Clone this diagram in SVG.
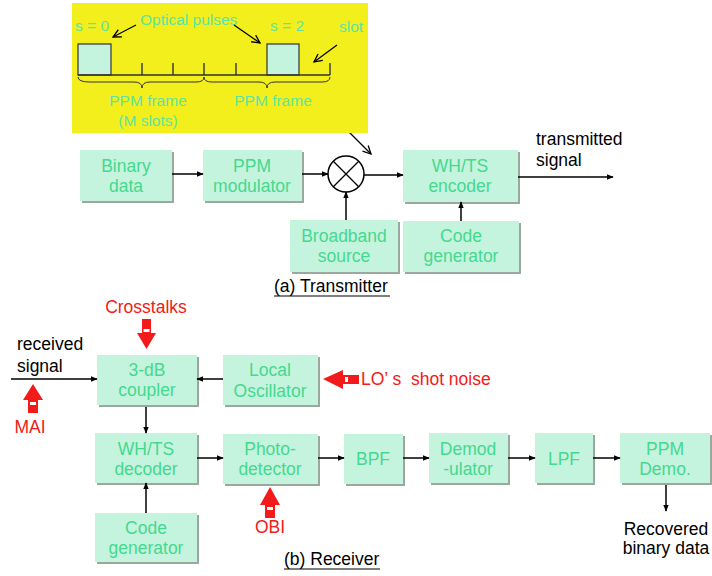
<svg xmlns="http://www.w3.org/2000/svg" width="712" height="576" viewBox="0 0 712 576">
<defs>
<style>
text{font-family:"Liberation Sans",Arial,sans-serif;}
.box{fill:#C4F4DE;}
.sh{fill:#9AA8A0;}
.bt{fill:#45D98F;font-size:17.5px;text-anchor:middle;}
.yt{fill:#5FE3A4;font-size:15.5px;}
.k{fill:#000;font-size:17.5px;}
.r{fill:#F21A1A;font-size:17.5px;}
.ln{stroke:#000;stroke-width:1.5;fill:none;}
.thin{stroke:#000;stroke-width:1.2;fill:none;}
.ra{fill:#F21A1A;}
</style>
<marker id="ah" viewBox="0 0 10 10" refX="9" refY="5" markerWidth="7" markerHeight="7" orient="auto" markerUnits="userSpaceOnUse">
<path d="M0,1 L10,5 L0,9 Z" fill="#000"/>
</marker>
<marker id="oa" viewBox="0 0 10 10" refX="9" refY="5" markerWidth="10" markerHeight="10" orient="auto" markerUnits="userSpaceOnUse">
<path d="M1,1 L9,5 L1,9" fill="none" stroke="#000" stroke-width="1.3"/>
</marker>
</defs>
<rect width="712" height="576" fill="#fff"/>

<!-- pointer arrow under yellow panel -->
<line x1="344" y1="127" x2="371" y2="154" class="thin" marker-end="url(#oa)"/>

<!-- yellow PPM panel -->
<g id="ppm-panel">
<rect x="72" y="3" width="296" height="130" fill="#F3EF1C"/>
<rect x="78" y="44" width="33" height="31" fill="#C4F4DE" stroke="#333" stroke-width="1.2"/>
<rect x="267" y="44" width="32" height="31" fill="#C4F4DE" stroke="#333" stroke-width="1.2"/>
<path d="M78,75 H330 M142,63 V75 M173,63 V75 M204,63 V75 M236,63 V75 M330,63 V75" stroke="#333" stroke-width="1.4" fill="none"/>
<path d="M78,77 Q78,82 90,82 H134 Q142,82 142,88 Q142,82 150,82 H196 Q204,82 204,77 Q204,82 212,82 H259 Q267,82 267,88 Q267,82 275,82 H322 Q330,82 330,77" stroke="#333" stroke-width="1" fill="none"/>
<text class="yt" x="75" y="31">s = 0</text>
<text class="yt" x="140" y="25">Optical pulses</text>
<text class="yt" x="270" y="31">s = 2</text>
<text class="yt" x="339" y="32">slot</text>
<text class="yt" x="148" y="106" text-anchor="middle">PPM frame</text>
<text class="yt" x="148" y="126" text-anchor="middle">(M slots)</text>
<text class="yt" x="273" y="106" text-anchor="middle">PPM frame</text>
<line x1="136" y1="25" x2="113" y2="37" class="thin" marker-end="url(#oa)"/>
<line x1="234" y1="25" x2="260" y2="43" class="thin" marker-end="url(#oa)"/>
<line x1="337" y1="45" x2="314" y2="62" class="thin" marker-end="url(#oa)"/>
</g>

<!-- Transmitter nodes -->
<g id="binary-data">
<rect class="sh" x="82" y="152" width="92" height="51"/>
<rect class="box" x="80" y="150" width="92" height="51"/>
<text class="bt" x="126" y="172">Binary</text>
<text class="bt" x="126" y="192">data</text>
</g>
<g id="ppm-modulator">
<rect class="sh" x="205" y="152" width="99" height="51"/>
<rect class="box" x="203" y="150" width="99" height="51"/>
<text class="bt" x="252" y="172">PPM</text>
<text class="bt" x="252" y="192">modulator</text>
</g>
<g id="mixer">
<circle cx="346" cy="174" r="18" fill="#fff" stroke="#000" stroke-width="1.5"/>
<path d="M333.3,161.3 L358.7,186.7 M358.7,161.3 L333.3,186.7" stroke="#000" stroke-width="1.3"/>
</g>
<g id="whts-encoder">
<rect class="sh" x="405" y="152" width="115" height="52"/>
<rect class="box" x="403" y="150" width="115" height="52"/>
<text class="bt" x="460" y="172">WH/TS</text>
<text class="bt" x="460" y="192">encoder</text>
</g>
<g id="broadband-source">
<rect class="sh" x="292" y="222" width="108" height="52"/>
<rect class="box" x="290" y="220" width="108" height="52"/>
<text class="bt" x="344" y="242">Broadband</text>
<text class="bt" x="344" y="262">source</text>
</g>
<g id="code-generator-tx">
<rect class="sh" x="405" y="223" width="116" height="51"/>
<rect class="box" x="403" y="221" width="116" height="51"/>
<text class="bt" x="461" y="242">Code</text>
<text class="bt" x="461" y="262">generator</text>
</g>
<g id="tx-labels">
<text class="k" x="536" y="145">transmitted</text>
<text class="k" x="536" y="166">signal</text>
<text class="k" x="274" y="292">(a) Transmitter</text>
<line x1="274" y1="296" x2="390" y2="296" stroke="#000" stroke-width="1.2"/>
</g>

<!-- Receiver nodes -->
<g id="coupler">
<rect class="sh" x="99" y="357" width="100" height="50"/>
<rect class="box" x="97" y="355" width="100" height="50"/>
<text class="bt" x="147" y="376">3-dB</text>
<text class="bt" x="147" y="396">coupler</text>
</g>
<g id="local-oscillator">
<rect class="sh" x="225" y="357" width="95" height="50"/>
<rect class="box" x="223" y="355" width="95" height="50"/>
<text class="bt" x="270" y="376">Local</text>
<text class="bt" x="270" y="397">Oscillator</text>
</g>
<g id="whts-decoder">
<rect class="sh" x="97" y="435" width="102" height="50"/>
<rect class="box" x="95" y="433" width="102" height="50"/>
<text class="bt" x="146" y="455">WH/TS</text>
<text class="bt" x="146" y="475">decoder</text>
</g>
<g id="code-generator-rx">
<rect class="sh" x="97" y="515" width="102" height="49"/>
<rect class="box" x="95" y="513" width="102" height="49"/>
<text class="bt" x="146" y="534">Code</text>
<text class="bt" x="146" y="554">generator</text>
</g>
<g id="photodetector">
<rect class="sh" x="225" y="436" width="95" height="50"/>
<rect class="box" x="223" y="434" width="95" height="50"/>
<text class="bt" x="270" y="455">Photo-</text>
<text class="bt" x="270" y="475">detector</text>
</g>
<g id="bpf">
<rect class="sh" x="346" y="436" width="59" height="50"/>
<rect class="box" x="344" y="434" width="59" height="50"/>
<text class="bt" x="373" y="465">BPF</text>
</g>
<g id="demodulator">
<rect class="sh" x="431" y="435" width="79" height="50"/>
<rect class="box" x="429" y="433" width="79" height="50"/>
<text class="bt" x="468" y="455">Demod</text>
<text class="bt" x="468" y="475">-ulator</text>
</g>
<g id="lpf">
<rect class="sh" x="537" y="435" width="58" height="50"/>
<rect class="box" x="535" y="433" width="58" height="50"/>
<text class="bt" x="564" y="465">LPF</text>
</g>
<g id="ppm-demo">
<rect class="sh" x="622" y="435" width="90" height="50"/>
<rect class="box" x="620" y="433" width="90" height="50"/>
<text class="bt" x="665" y="455">PPM</text>
<text class="bt" x="665" y="475">Demo.</text>
</g>

<g id="rx-labels">
<text class="k" x="17" y="350">received</text>
<text class="k" x="17" y="372">signal</text>
<text class="k" x="666" y="535" text-anchor="middle">Recovered</text>
<text class="k" x="666" y="554" text-anchor="middle">binary data</text>
<text class="k" x="284" y="565">(b) Receiver</text>
<line x1="284" y1="569" x2="380" y2="569" stroke="#000" stroke-width="1.2"/>
</g>

<!-- noise sources (red block arrows) -->
<g id="crosstalks">
<text class="r" x="146" y="313" text-anchor="middle">Crosstalks</text>
<polygon class="ra" points="142,319 151,319 151,333 156,333 146.5,349 137,333 142,333"/>
<rect x="143.5" y="329" width="6" height="3" fill="#fff"/>
</g>
<g id="mai">
<polygon class="ra" points="33,384 43,400 38,400 38,413 28,413 28,400 23,400"/>
<rect x="30" y="402" width="6" height="3" fill="#fff"/>
<text class="r" x="30" y="433" text-anchor="middle">MAI</text>
</g>
<g id="lo-noise">
<polygon class="ra" points="323,379 343,370 343,375 359,375 359,384 343,384 343,389"/>
<rect x="345" y="377" width="3" height="5" fill="#fff"/>
<text class="r" x="361" y="385">LO’ s &#160;shot noise</text>
</g>
<g id="obi">
<polygon class="ra" points="270,487 280,505 275,505 275,518 265,518 265,505 260,505"/>
<rect x="267" y="507" width="6" height="3" fill="#fff"/>
<text class="r" x="270" y="533" text-anchor="middle">OBI</text>
</g>

<!-- connectors -->
<g id="connectors" class="ln">
<line x1="172" y1="174" x2="203" y2="174" marker-end="url(#ah)"/>
<line x1="302" y1="174" x2="328" y2="174" marker-end="url(#ah)"/>
<line x1="364" y1="175" x2="403" y2="175" marker-end="url(#ah)"/>
<line x1="346" y1="220" x2="346" y2="192" marker-end="url(#ah)"/>
<line x1="461" y1="221" x2="461" y2="202" marker-end="url(#ah)"/>
<line x1="518" y1="177" x2="613" y2="177" marker-end="url(#ah)"/>
<line x1="11" y1="379" x2="97" y2="379" marker-end="url(#ah)"/>
<line x1="223" y1="379" x2="197" y2="379" marker-end="url(#ah)"/>
<line x1="146" y1="407" x2="146" y2="433" marker-end="url(#ah)"/>
<line x1="146" y1="513" x2="146" y2="483" marker-end="url(#ah)"/>
<line x1="197" y1="458" x2="223" y2="458" marker-end="url(#ah)"/>
<line x1="318" y1="458" x2="344" y2="458" marker-end="url(#ah)"/>
<line x1="403" y1="458" x2="429" y2="458" marker-end="url(#ah)"/>
<line x1="508" y1="458" x2="535" y2="458" marker-end="url(#ah)"/>
<line x1="593" y1="458" x2="620" y2="458" marker-end="url(#ah)"/>
<line x1="666" y1="485" x2="666" y2="511" marker-end="url(#ah)"/>
</g>
</svg>
